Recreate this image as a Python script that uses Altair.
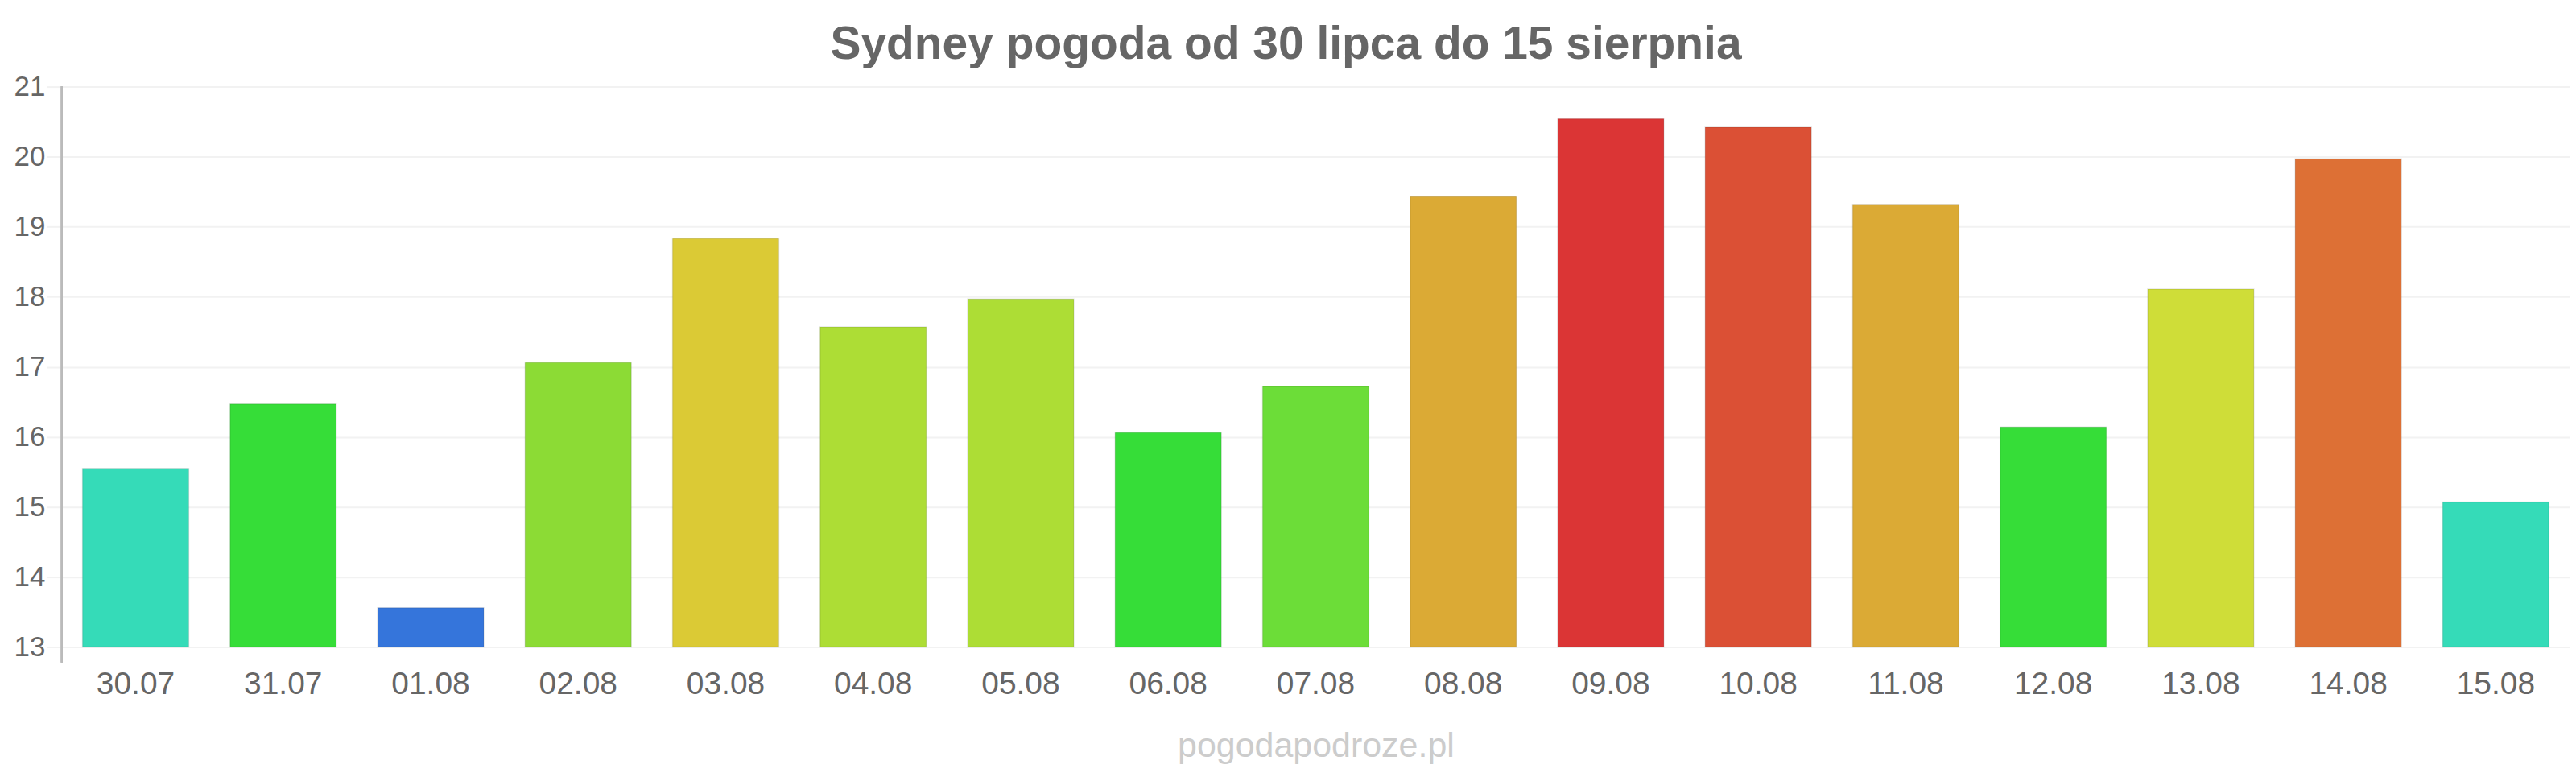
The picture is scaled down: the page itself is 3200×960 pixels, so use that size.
import altair as alt
import pandas as pd

dates = ["30.07", "31.07", "01.08", "02.08", "03.08", "04.08", "05.08", "06.08", "07.08",
         "08.08", "09.08", "10.08", "11.08", "12.08", "13.08", "14.08", "15.08"]
temps = [15.55, 16.47, 13.56, 17.06, 18.83, 17.57, 17.97, 16.06, 16.72,
         19.43, 20.54, 20.42, 19.32, 16.14, 18.11, 19.97, 15.07]
colors = ["#35dbb8", "#36dd38", "#3575db", "#8cdb35", "#dbca35", "#addd35", "#addd35", "#36dd38", "#6cdd38",
          "#dbaa35", "#db3535", "#db5035", "#dbaa35", "#36dd38", "#cfdd38", "#dd7035", "#35dbb8"]
y_ticks = [13, 14, 15, 16, 17, 18, 19, 20, 21]
y_min, y_max = 13, 21

df = pd.DataFrame({"date": dates, "temp": temps})

FONT = "Liberation Sans"
W, H = 3120, 697

bars = alt.Chart(df).mark_bar(stroke="black", strokeOpacity=0.1, strokeWidth=1.5).encode(
    x=alt.X("date:N", sort=dates,
            scale=alt.Scale(paddingInner=0.28, paddingOuter=0.14),
            axis=alt.Axis(title="pogodapodroze.pl", labelAngle=0, labelFont=FONT, labelFontSize=39,
                          labelColor="#666666", labelPadding=27, ticks=False, tickSize=0, domain=False,
                          grid=False, titleFont=FONT, titleFontSize=43, titleFontWeight="normal",
                          titleColor="#cccccc", titlePadding=36)),
    y=alt.Y("temp:Q", scale=alt.Scale(domain=[y_min, y_max], nice=False, zero=False),
            axis=alt.Axis(title=None, values=y_ticks, labelFont=FONT, labelFontSize=35,
                          labelColor="#666666", labelPadding=2, tickSize=19, tickColor="#f2f2f2",
                          tickWidth=2, gridColor="#f2f2f2", gridWidth=2, domain=False)),
    y2=alt.datum(y_min),
    color=alt.Color("date:N", scale=alt.Scale(domain=dates, range=colors), legend=None),
)

axis_line = alt.Chart(df).mark_rule(color="#bbbbbb", strokeWidth=2).encode(
    x=alt.value(0), y=alt.value(0), y2=alt.value(H + 19)
)

chart = alt.layer(bars, axis_line).properties(
    width=W, height=H,
    autosize=alt.AutoSizeParams(type="none"),
    padding={"left": 69, "top": 99, "right": 0, "bottom": 148},
    title=alt.Title("Sydney pogoda od 30 lipca do 15 sierpnia", font=FONT, fontSize=57,
                    fontWeight="bold", color="#666666", anchor="middle", dx=-37, offset=6),
).configure_view(stroke=None).configure(background="white")

chart.save("out.html", embed_options={"renderer": "svg", "actions": False})
